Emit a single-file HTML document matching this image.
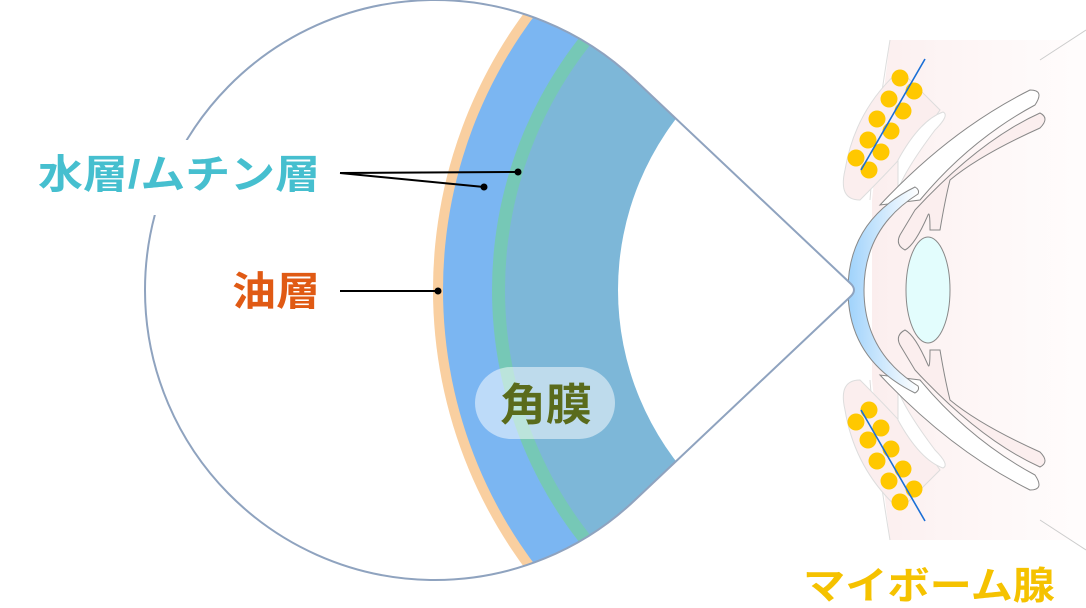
<!DOCTYPE html>
<html><head><meta charset="utf-8"><style>
html,body{margin:0;padding:0;background:#fff;overflow:hidden;width:1086px;height:608px;}
svg{display:block}
text{font-family:"Liberation Sans","Noto Sans CJK JP",sans-serif;font-weight:bold;}
</style></head><body>
<svg width="1086" height="608" viewBox="0 0 1086 608" xmlns="http://www.w3.org/2000/svg">
<defs>
<clipPath id="drop">
<path d="M635,80 A290,290 0 1 0 635,500 L850,297 Q858,290 850,283 Z"/>
</clipPath>
<linearGradient id="cg" x1="0" y1="0" x2="1" y2="0">
<stop offset="0" stop-color="#9fd2fb"/><stop offset="1" stop-color="#ffffff"/>
</linearGradient>
<linearGradient id="skin" x1="0" y1="0" x2="1" y2="0">
<stop offset="0" stop-color="#fbeeee"/><stop offset="1" stop-color="#fff8f8" stop-opacity="0.4"/>
</linearGradient>
</defs>

<path d="M890,40 Q880,120 872,200 L872,380 Q880,460 890,540 L1086,540 L1086,40 Z" fill="url(#skin)"/>
<path d="M890,40 Q875,130 870,200 M870,380 Q875,450 890,540" fill="none" stroke="#ddd" stroke-width="1"/>
<path d="M1040,60 L1086,30 M1040,520 L1086,550" stroke="#ccc" stroke-width="1"/>
<path d="M845,170 Q855,110 900,70 L940,110 Q920,140 860,200 Q838,200 845,170Z" fill="#fbeeee" stroke="#ddd"/>
<path d="M845,410 Q855,470 900,510 L940,470 Q920,440 860,380 Q838,380 845,410Z" fill="#fbeeee" stroke="#ddd"/>
<path d="M898,160 Q920,120 943,112 Q950,115 935,130 Q905,170 898,190Z" fill="#fff" stroke="#ddd"/>
<path d="M898,420 Q920,460 943,468 Q950,465 935,450 Q905,410 898,390Z" fill="#fff" stroke="#ddd"/>
<path d="M880,205 Q950,130 1030,90 Q1045,90 1035,105 Q970,140 920,200 Z" fill="#fff" stroke="#888" stroke-width="1"/>
<path d="M880,375 Q950,450 1030,490 Q1045,490 1035,475 Q970,440 920,380 Z" fill="#fff" stroke="#888" stroke-width="1"/>
<path d="M915,210 Q980,140 1040,113 Q1050,118 1040,128 Q980,155 950,180 Q945,200 940,230 L930,230 Q930,210 928,215 Q915,245 905,250 Q895,245 900,235 Z" fill="#fbeeee" stroke="#888"/>
<path d="M915,370 Q980,440 1040,467 Q1050,462 1040,452 Q980,425 950,400 Q945,380 940,350 L930,350 Q930,370 928,365 Q915,335 905,330 Q895,335 900,345 Z" fill="#fbeeee" stroke="#888"/>
<path d="M915,187 Q848,220 848,290 Q848,360 915,393 Q920,390 918,386 Q864,352 864,290 Q864,228 918,194 Q920,190 915,187 Z" fill="url(#cg)" stroke="#888" stroke-width="1"/>
<ellipse cx="928" cy="290" rx="22" ry="53" fill="#e3fdfd" stroke="#888"/>
<g fill="#ffc800">
<circle cx="900" cy="78" r="8.5"/><circle cx="914" cy="91" r="8.5"/><circle cx="889" cy="99" r="8.5"/><circle cx="903" cy="111" r="8.5"/><circle cx="877" cy="119" r="8.5"/><circle cx="891" cy="131" r="8.5"/><circle cx="868" cy="140" r="8.5"/><circle cx="881" cy="152" r="8.5"/><circle cx="856" cy="158" r="8.5"/><circle cx="869" cy="170" r="8.5"/>
<circle cx="869" cy="410" r="8.5"/><circle cx="856" cy="422" r="8.5"/><circle cx="881" cy="428" r="8.5"/><circle cx="868" cy="440" r="8.5"/><circle cx="891" cy="449" r="8.5"/><circle cx="877" cy="461" r="8.5"/><circle cx="903" cy="469" r="8.5"/><circle cx="889" cy="481" r="8.5"/><circle cx="914" cy="489" r="8.5"/><circle cx="900" cy="502" r="8.5"/>
</g>
<path d="M925,59 L861,170 M861,410 L925,521" stroke="#1a6fd6" stroke-width="1.6"/>

<g clip-path="url(#drop)">
<circle cx="900" cy="290" r="467" fill="#f9cfa0"/>
<circle cx="900" cy="290" r="457" fill="#7bb6f2"/>
<circle cx="900" cy="290" r="408" fill="#76c8b6"/>
<circle cx="900" cy="290" r="395" fill="#7db7d8"/>
<circle cx="900" cy="290" r="282" fill="#fff"/>
</g>
<path d="M635,80 A290,290 0 1 0 635,500 L850,297 Q858,290 850,283 Z" fill="none" stroke="#8fa3bf" stroke-width="2"/>

<rect x="30" y="140" width="300" height="75" fill="#fff"/>
<text x="38" y="188" font-size="40" fill="#46bfcf" textLength="282" lengthAdjust="spacingAndGlyphs">水層/ムチン層</text>
<text x="232" y="305" font-size="40" fill="#e05a14" textLength="88" lengthAdjust="spacingAndGlyphs">油層</text>
<g stroke="#000" stroke-width="2"><line x1="340" y1="173" x2="518" y2="172"/><line x1="340" y1="173" x2="484" y2="187"/><line x1="340" y1="291" x2="438" y2="291"/></g>
<g fill="#000"><circle cx="518" cy="172" r="3.5"/><circle cx="484" cy="187" r="3.5"/><circle cx="438" cy="291" r="3.5"/></g>
<rect x="475" y="367" width="140" height="72" rx="36" fill="#ffffff" fill-opacity="0.5"/>
<text x="500" y="420" font-size="44" fill="#5a6b1c" textLength="92" lengthAdjust="spacingAndGlyphs">角膜</text>
<text x="803" y="599" font-size="38" fill="#f5c200" textLength="252" lengthAdjust="spacingAndGlyphs">マイボーム腺</text>
</svg>
</body></html>
